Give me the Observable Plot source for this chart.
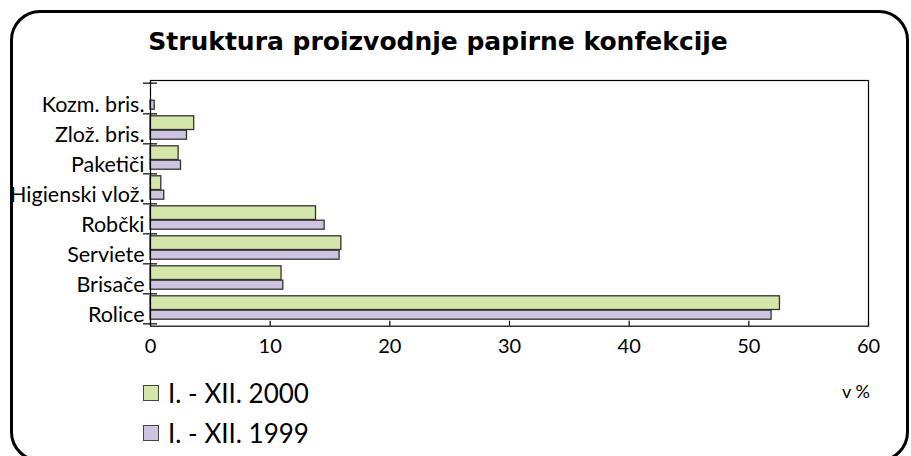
<!DOCTYPE html>
<html>
<head>
<meta charset="utf-8">
<script src="https://cdn.jsdelivr.net/npm/d3@7"></script>
<script src="https://cdn.jsdelivr.net/npm/@observablehq/plot@0.6"></script>
<style>
  html, body { margin: 0; padding: 0; background: #fff; }
  #wrap { position: relative; width: 911px; height: 456px; overflow: hidden; background: #fff; font-family: Lato, "Liberation Sans", sans-serif; }
  #border { position: absolute; left: 10px; top: 10px; width: 893px; height: 446px; border: 3px solid #000; border-radius: 30px; pointer-events: none; }
  #title { position: absolute; left: 0; width: 876px; top: 27px; text-align: center; font-family: "DejaVu Sans", sans-serif; font-weight: bold; font-size: 25px; color: #000; }
  #chart { position: absolute; left: 0; top: 0; }
  .leg { position: absolute; left: 143px; font-size: 26px; color: #000; display: flex; align-items: center; white-space: nowrap; }
  .leg .sw { width: 16px; height: 16px; border: 1px solid #444; margin-right: 9px; box-sizing: border-box; }
  #unit { position: absolute; left: 842px; top: 380px; font-size: 18px; color: #000; }
</style>
</head>
<body>
<div id="wrap">
  <div id="chart"></div>
  <div id="title">Struktura proizvodnje papirne konfekcije</div>
  <div id="legend"></div>
  <div id="unit">v %</div>
  <div id="border"></div>
</div>
<script>
const categories = ["Kozm. bris.", "Zlož. bris.", "Paketiči", "Higienski vlož.", "Robčki", "Serviete", "Brisače", "Rolice"];
const seriesNames = ["I. - XII. 2000", "I. - XII. 1999"];
const values2000 = [0, 3.65, 2.35, 0.9, 13.83, 15.95, 10.95, 52.6];
const values1999 = [0.35, 3.05, 2.55, 1.15, 14.55, 15.8, 11.1, 51.9];
const xTicks = [0, 10, 20, 30, 40, 50, 60];
const colors = ["#d5e6ab", "#cdc5e0"];

const data2000 = categories.map((c, i) => ({category: c, value: values2000[i]}));
const data1999 = categories.map((c, i) => ({category: c, value: values1999[i]}));

const W = 911, H = 456, mT = 80, mB = 130.3;
const bw = (H - mT - mB) / categories.length;

const chart = Plot.plot({
  width: W,
  height: H,
  marginLeft: 150,
  marginRight: 43,
  marginTop: mT,
  marginBottom: mB,
  x: {domain: [0, 60]},
  y: {domain: categories, padding: 0},
  style: {background: "transparent", fontFamily: "Lato, 'Liberation Sans', sans-serif", color: "#000", overflow: "visible"},
  marks: [
    Plot.barX(data2000, {x: "value", y: "category", fill: colors[0], stroke: "#333", strokeWidth: 1.3, insetTop: 2.8, insetBottom: 13.5}),
    Plot.barX(data1999, {x: "value", y: "category", fill: colors[1], stroke: "#333", strokeWidth: 1.3, insetTop: 17.2, insetBottom: 3.8}),
    Plot.frame({stroke: "#000", strokeWidth: 1.2}),
    Plot.axisX({ticks: xTicks, tickSize: 0, tickPadding: 13, fontSize: 20, label: null}),
    Plot.axisX({ticks: xTicks, tickSize: 5, dy: -5, text: null, label: null, strokeWidth: 1.2}),
    Plot.axisY({tickSize: 0, tickPadding: 6, dy: 7, fontSize: 21.5, label: null}),
    Plot.axisY({tickSize: 14, dx: 7, dy: bw / 2, text: null, label: null, strokeWidth: 1.2}),
    Plot.axisY({ticks: [categories[0]], tickSize: 14, dx: 7, dy: -bw / 2, text: null, label: null, strokeWidth: 1.2})
  ]
});
document.getElementById("chart").appendChild(chart);

const legend = document.getElementById("legend");
seriesNames.forEach((name, i) => {
  const row = document.createElement("div");
  row.className = "leg";
  row.style.top = (i === 0 ? 377 : 417) + "px";
  const sw = document.createElement("div");
  sw.className = "sw";
  sw.style.background = colors[i];
  const t = document.createElement("span");
  t.textContent = name;
  row.appendChild(sw);
  row.appendChild(t);
  legend.appendChild(row);
});
</script>
</body>
</html>
